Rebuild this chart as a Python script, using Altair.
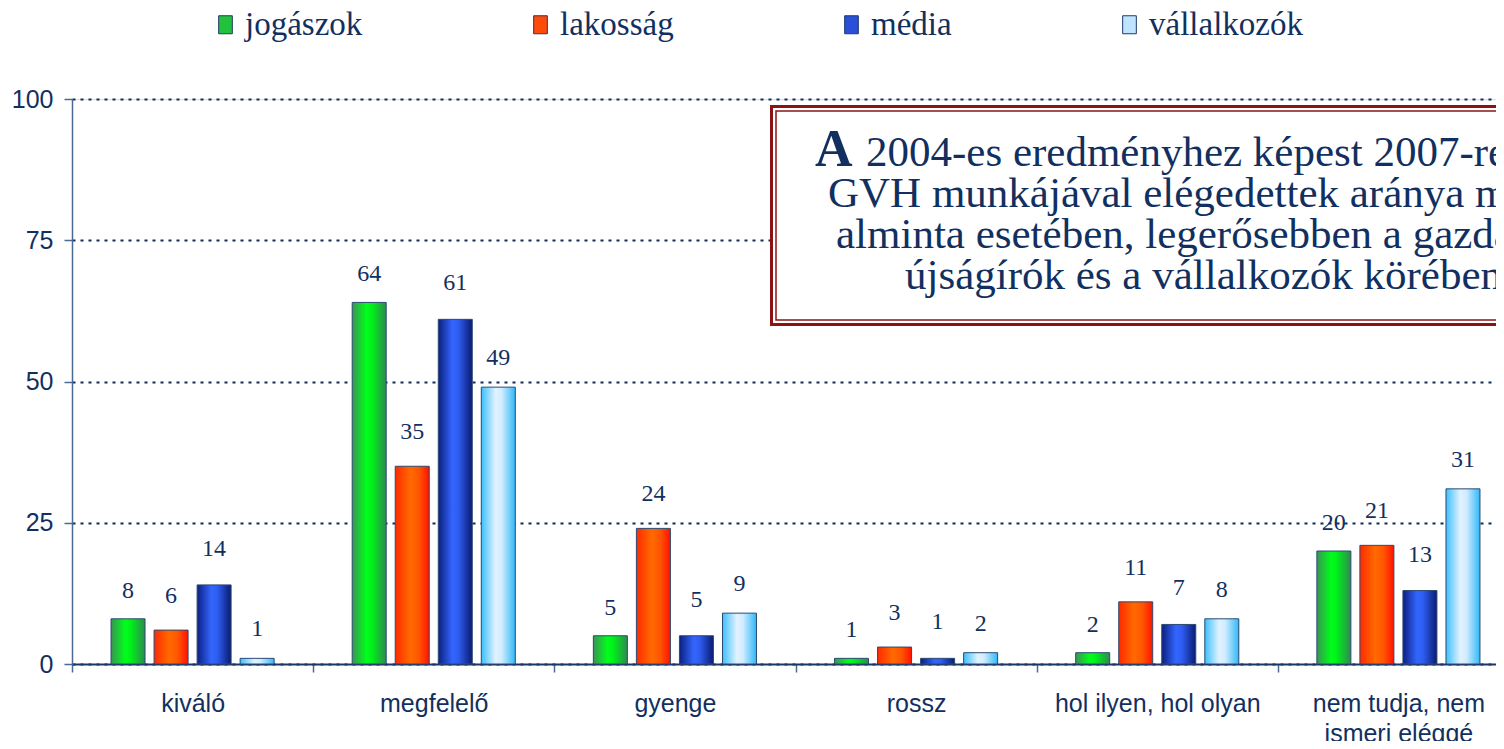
import altair as alt
import pandas as pd

categories = ["kiváló", "megfelelő", "gyenge", "rossz",
              "hol ilyen, hol olyan", "nem tudja, nem ismeri eléggé"]
series = ["jogászok", "lakosság", "média", "vállalkozók"]
jogaszok = [8, 64, 5, 1, 2, 20]
lakossag = [6, 35, 24, 3, 11, 21]
media = [14, 61, 5, 1, 7, 13]
vallalkozok = [1, 49, 9, 2, 8, 31]
y_ticks = [0, 25, 50, 75, 100]
note_first_word = "A"
note_lines = [
    "2004-es eredményhez képest 2007-re nőtt a",
    "GVH munkájával elégedettek aránya minden",
    "alminta esetében, legerősebben a gazdasági",
    "újságírók és a vállalkozók körében.",
]

values = {"jogászok": jogaszok, "lakosság": lakossag,
          "média": media, "vállalkozók": vallalkozok}
rows = []
for s in series:
    for c, v in zip(categories, values[s]):
        rows.append({"category": c, "series": s, "value": v})
df = pd.DataFrame(rows)

NAVY = "#12305f"
legend_colors = ["#22c23a", "#ff4a0a", "#2a4fd8", "#bfe4ff"]


def grad(stops):
    return alt.LinearGradient(
        gradient="linear",
        stops=[alt.GradientStop(color=c, offset=o) for o, c in stops],
        x1=0, x2=1, y1=0, y2=0,
    )


gradients = {
    "jogászok": grad([(0, "#3a9455"), (0.42, "#00ff1a"), (0.58, "#00f01a"), (1, "#2f8a50")]),
    "lakosság": grad([(0, "#ff2a00"), (0.45, "#ff6a00"), (0.7, "#ff5500"), (1, "#ff1200")]),
    "média": grad([(0, "#0c1f80"), (0.42, "#3366ff"), (0.6, "#2e5cf0"), (1, "#0a1a70")]),
    "vállalkozók": grad([(0, "#3cc0ff"), (0.42, "#e2f2ff"), (0.6, "#d0ecff"), (1, "#30b8f8")]),
}
label_dy = {"jogászok": -28, "lakosság": -34, "média": -36, "vállalkozók": -29}

x_enc = alt.X(
    "category:N",
    sort=categories,
    scale=alt.Scale(domain=categories, range=[0, 1447], paddingInner=0, paddingOuter=0),
    axis=alt.Axis(
        title=None,
        tickBand="extent",
        tickSize=8,
        tickColor="#4a6a94",
        tickWidth=1.5,
        domainColor="#1a3766",
        domainWidth=2,
        labelFont="Liberation Sans",
        labelFontSize=25,
        labelColor=NAVY,
        labelPadding=19,
        labelLineHeight=30,
        labelAngle=0,
        labelLimit=400,
        labelExpr="datum.label == 'nem tudja, nem ismeri eléggé' ? ['nem tudja, nem', 'ismeri eléggé'] : datum.label",
    ),
)
xoff_enc = alt.XOffset(
    "series:N",
    scale=alt.Scale(domain=series, paddingInner=0.21, paddingOuter=0.907),
)
y_enc = alt.Y(
    "value:Q",
    scale=alt.Scale(domain=[0, 100], nice=False),
    axis=alt.Axis(
        title=None,
        values=y_ticks,
        tickSize=8,
        tickColor="#4a6a94",
        tickWidth=1.5,
        domainColor="#4a6a94",
        domainWidth=1.5,
        grid=True,
        gridColor="#0d2d5e",
        gridDash=[3, 5],
        gridWidth=2,
        labelFont="Liberation Sans",
        labelFontSize=25,
        labelColor=NAVY,
        labelPadding=11,
    ),
)

base = alt.Chart(df)

legend_layer = base.mark_bar(opacity=0).encode(
    x=x_enc,
    xOffset=xoff_enc,
    y=y_enc,
    color=alt.Color(
        "series:N",
        scale=alt.Scale(domain=series, range=legend_colors),
        legend=alt.Legend(
            title=None,
            orient="none",
            legendX=137,
            legendY=-91,
            direction="horizontal",
            columns=4,
            columnPadding=161,
            padding=0,
            symbolType="M-0.76,-1H0.76V1H-0.76Z",
            symbolSize=324,
            symbolOpacity=1,
            symbolStrokeColor="#1f3a66",
            symbolStrokeWidth=1,
            labelFont="Liberation Serif",
            labelFontSize=33,
            labelColor=NAVY,
            labelOffset=3,
        ),
    ),
)

layers = [legend_layer]
for s in series:
    sub = base.transform_filter(alt.datum.series == s)
    layers.append(
        sub.mark_bar(color=gradients[s], stroke="#2b4a72", strokeWidth=1).encode(
            x=x_enc, xOffset=xoff_enc, y=y_enc
        )
    )
    layers.append(
        sub.mark_text(
            font="Liberation Serif", fontSize=24, color=NAVY,
            baseline="middle", dy=label_dy[s],
        ).encode(x=x_enc, xOffset=xoff_enc, y=y_enc, text="value:Q")
    )

one = alt.Chart(pd.DataFrame({"k": [0]}))
box_outer = one.mark_rect(fill="white", stroke="#8a1414", strokeWidth=3).encode(
    x=alt.value(699.5), x2=alt.value(1520), y=alt.value(7.5), y2=alt.value(225.5)
)
box_inner = one.mark_rect(fill="white", fillOpacity=0, stroke="#8a1414", strokeWidth=1.5).encode(
    x=alt.value(704), x2=alt.value(1520), y=alt.value(12), y2=alt.value(221)
)
note_A = one.mark_text(
    font="Liberation Serif", fontSize=52, fontWeight="bold", color=NAVY,
    align="left", baseline="alphabetic",
).encode(x=alt.value(743), y=alt.value(67), text=alt.value(note_first_word))
note_x = [794, 756, 764, 833]
note_y = [67, 108, 149, 190]
note_marks = []
for line, nx, ny in zip(note_lines, note_x, note_y):
    note_marks.append(
        one.mark_text(
            font="Liberation Serif", fontSize=43, color=NAVY,
            align="left", baseline="alphabetic",
        ).encode(x=alt.value(nx), y=alt.value(ny), text=alt.value(line))
    )

chart = alt.layer(*layers, box_outer, box_inner, note_A, *note_marks).properties(
    width=1424,
    height=565,
    autosize=alt.AutoSizeParams(type="none"),
    padding={"left": 64, "top": 91, "right": 0, "bottom": 77},
).configure_view(stroke=None).configure(background="white")

chart.save("out.html", embed_options={"renderer": "svg", "actions": False})
